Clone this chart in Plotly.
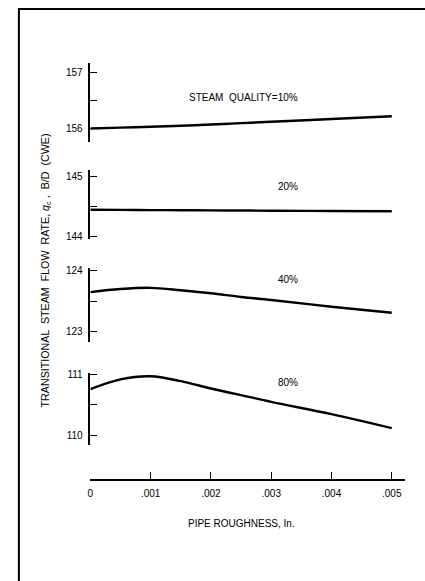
import plotly.graph_objects as go

# ---- data ----
roughness = [0, 0.0005, 0.001, 0.0015, 0.002, 0.0025, 0.003, 0.004, 0.005]
q_10 = [156.00, 156.015, 156.03, 156.05, 156.07, 156.095, 156.12, 156.17, 156.22]
q_20 = [144.445, 144.443, 144.44, 144.438, 144.435, 144.433, 144.43, 144.425, 144.42]
q_40 = [123.65, 123.70, 123.72, 123.68, 123.63, 123.57, 123.52, 123.41, 123.31]
q_80 = [110.76, 110.92, 110.97, 110.89, 110.77, 110.66, 110.55, 110.35, 110.12]

series_labels = ["STEAM  QUALITY=10%", "20%", "40%", "80%"]

x_tickvals = [0, 0.001, 0.002, 0.003, 0.004, 0.005]
x_ticktext = ["0", ".001", ".002", ".003", ".004", ".005"]

y1_tickvals = [156, 157]
y2_tickvals = [144, 145]
y3_tickvals = [123, 124]
y4_tickvals = [110, 111]
y1_minor = [156.5]
y2_minor = [144.5]
y3_minor = [123.5]
y4_minor = [110.5]

W, H = 425, 581
FONT = "Liberation Sans"


def px(x):
    return x / W


def py(y):
    return 1 - y / H


fig = go.Figure()
series = [q_10, q_20, q_40, q_80]
yrefs = ["y", "y2", "y3", "y4"]
for vals, yr in zip(series, yrefs):
    fig.add_trace(go.Scatter(
        x=roughness, y=vals, xaxis="x", yaxis=yr, mode="lines",
        line=dict(color="black", width=2.4, shape="spline", smoothing=1),
        showlegend=False, hoverinfo="skip"))

axis_common = dict(
    showline=True, linecolor="black", linewidth=1.5, showgrid=False,
    zeroline=False, ticks="inside", ticklen=7, tickwidth=1.3, tickcolor="black",
    tickfont=dict(family=FONT, size=10, color="black"), anchor="x",
    tickmode="array", ticklabelstandoff=4,
)

# panels: (domain top px, domain bottom px, range top, range bottom)
panels = [
    (60, 140, 157.168, 155.752, y1_tickvals, y1_minor),
    (168, 238, 145.117, 143.95, y2_tickvals, y2_minor),
    (267, 342, 124.049, 122.833, y3_tickvals, y3_minor),
    (373, 446, 111.032, 109.849, y4_tickvals, y4_minor),
]
layout_axes = {}
for i, (t, b, rt, rb, tv, mv) in enumerate(panels):
    name = "yaxis" if i == 0 else f"yaxis{i+1}"
    layout_axes[name] = dict(
        axis_common, domain=[py(b), py(t)], range=[rb, rt],
        tickvals=tv, ticktext=[str(v) for v in tv],
        minor=dict(tickmode="array", tickvals=mv, ticks="inside", ticklen=7,
                   tickwidth=1.3, tickcolor="black", showgrid=False))

fig.update_layout(
    width=W, height=H,
    margin=dict(l=0, r=0, t=0, b=0),
    paper_bgcolor="white", plot_bgcolor="rgba(0,0,0,0)",
    xaxis=dict(
        domain=[px(88), px(405)], range=[0, 0.005222], anchor="free",
        position=py(481.7), showline=True, linecolor="black", linewidth=1.5,
        showgrid=False, zeroline=False, ticks="inside", ticklen=7,
        tickwidth=1.3, tickcolor="black", tickmode="array",
        tickvals=x_tickvals, ticktext=x_ticktext, ticklabelstandoff=4,
        tickfont=dict(family=FONT, size=10, color="black"),
    ),
    **layout_axes,
)

# frame
fig.add_shape(type="rect", xref="paper", yref="paper",
              x0=px(16), x1=1.05, y0=-0.05, y1=py(5),
              line=dict(color="black", width=2))

# curve labels
label_pos = [(242.5, 94.3), (287, 185), (287, 279.3), (287, 383.3)]
for txt, (x, y) in zip(series_labels, label_pos):
    fig.add_annotation(text=txt, x=px(x), y=py(y), xref="paper", yref="paper",
                       showarrow=False, xanchor="center", yanchor="middle",
                       font=dict(family=FONT, size=10, color="black"))

# axis titles
fig.add_annotation(text="PIPE ROUGHNESS, In.", x=px(240), y=py(525.7),
                   xref="paper", yref="paper", showarrow=False,
                   xanchor="center", yanchor="middle",
                   font=dict(family=FONT, size=10, color="black"))
fig.add_annotation(text="TRANSITIONAL  STEAM  FLOW  RATE, <i>q</i><sub>c</sub> ,  B/D  (CWE)",
                   x=px(43), y=py(270), xref="paper", yref="paper",
                   showarrow=False, textangle=-90,
                   xanchor="center", yanchor="middle",
                   font=dict(family=FONT, size=10.7, color="black"))

fig.write_html("out.html")
